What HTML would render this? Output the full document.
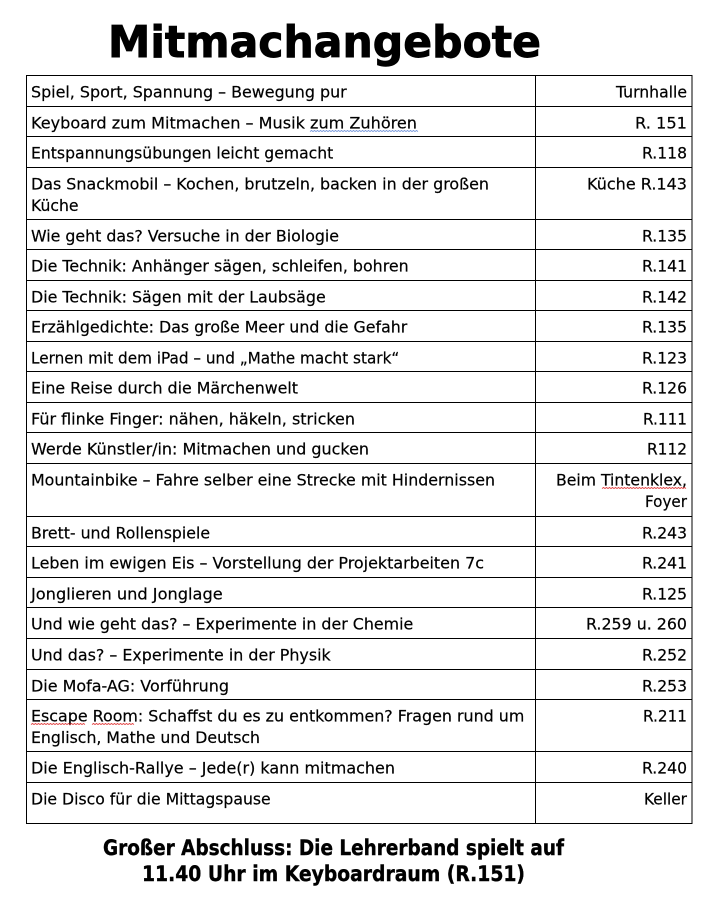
<!DOCTYPE html>
<html>
<head>
<meta charset="utf-8">
<style>
  html, body { margin: 0; padding: 0; background: #ffffff; }
  body { width: 717px; height: 902px; overflow: hidden; }
  svg { display: block; }
  .t { font-family: "DejaVu Sans", "Liberation Sans", sans-serif; font-size: 15.7px; fill: #000; stroke: #000; stroke-width: 0.2px; }
  .b { font-family: "DejaVu Sans", "Liberation Sans", sans-serif; font-weight: bold; fill: #000; stroke: #000; }
</style>
</head>
<body>
<svg width="717" height="902" viewBox="0 0 717 902" xmlns="http://www.w3.org/2000/svg">
  <rect x="0" y="0" width="717" height="902" fill="#ffffff"/>

  <!-- Title -->
  <text class="b" x="108" y="57" font-size="44" stroke-width="0.9" textLength="433" lengthAdjust="spacingAndGlyphs">Mitmachangebote</text>

  <!-- Table frame -->
  <g stroke="#000" stroke-width="1" fill="none" shape-rendering="crispEdges">
    <rect x="26.5" y="75.5" width="665.5" height="748"/>
    <line x1="535.5" y1="75.5" x2="535.5" y2="823.5"/>
    <line x1="26.5" y1="106.5" x2="692" y2="106.5"/>
    <line x1="26.5" y1="136.5" x2="692" y2="136.5"/>
    <line x1="26.5" y1="167.5" x2="692" y2="167.5"/>
    <line x1="26.5" y1="219.5" x2="692" y2="219.5"/>
    <line x1="26.5" y1="249.5" x2="692" y2="249.5"/>
    <line x1="26.5" y1="280.5" x2="692" y2="280.5"/>
    <line x1="26.5" y1="310.5" x2="692" y2="310.5"/>
    <line x1="26.5" y1="341.5" x2="692" y2="341.5"/>
    <line x1="26.5" y1="371.5" x2="692" y2="371.5"/>
    <line x1="26.5" y1="402.5" x2="692" y2="402.5"/>
    <line x1="26.5" y1="432.5" x2="692" y2="432.5"/>
    <line x1="26.5" y1="463.5" x2="692" y2="463.5"/>
    <line x1="26.5" y1="516.5" x2="692" y2="516.5"/>
    <line x1="26.5" y1="546.5" x2="692" y2="546.5"/>
    <line x1="26.5" y1="577.5" x2="692" y2="577.5"/>
    <line x1="26.5" y1="607.5" x2="692" y2="607.5"/>
    <line x1="26.5" y1="638.5" x2="692" y2="638.5"/>
    <line x1="26.5" y1="669.5" x2="692" y2="669.5"/>
    <line x1="26.5" y1="699.5" x2="692" y2="699.5"/>
    <line x1="26.5" y1="751.5" x2="692" y2="751.5"/>
    <line x1="26.5" y1="782.5" x2="692" y2="782.5"/>
  </g>

  <!-- Left column -->
  <g class="t">
    <text x="31" y="97.5" textLength="315.7" lengthAdjust="spacingAndGlyphs">Spiel, Sport, Spannung – Bewegung pur</text>
    <text x="31" y="128.5" textLength="386" lengthAdjust="spacingAndGlyphs">Keyboard zum Mitmachen – Musik zum  Zuhören</text>
    <text x="31" y="158.5" textLength="302.3" lengthAdjust="spacingAndGlyphs">Entspannungsübungen leicht gemacht</text>
    <text x="31" y="189.5" textLength="458" lengthAdjust="spacingAndGlyphs">Das Snackmobil – Kochen, brutzeln, backen in der großen</text>
    <text x="31" y="211.2" textLength="47.5" lengthAdjust="spacingAndGlyphs">Küche</text>
    <text x="31" y="241.5" textLength="308" lengthAdjust="spacingAndGlyphs">Wie geht das? Versuche in der Biologie</text>
    <text x="31" y="271.5" textLength="377.7" lengthAdjust="spacingAndGlyphs">Die Technik: Anhänger sägen, schleifen, bohren</text>
    <text x="31" y="302.5" textLength="294.7" lengthAdjust="spacingAndGlyphs">Die Technik: Sägen mit der Laubsäge</text>
    <text x="31" y="332.5" textLength="376.3" lengthAdjust="spacingAndGlyphs">Erzählgedichte: Das große Meer und die Gefahr</text>
    <text x="31" y="363.5" textLength="368.3" lengthAdjust="spacingAndGlyphs">Lernen mit dem iPad – und „Mathe macht stark“</text>
    <text x="31" y="393.5" textLength="267" lengthAdjust="spacingAndGlyphs">Eine Reise durch die Märchenwelt</text>
    <text x="31" y="424.5" textLength="324" lengthAdjust="spacingAndGlyphs">Für flinke Finger: nähen, häkeln, stricken</text>
    <text x="31" y="454.5" textLength="338" lengthAdjust="spacingAndGlyphs">Werde Künstler/in: Mitmachen und gucken</text>
    <text x="31" y="485.5" textLength="464" lengthAdjust="spacingAndGlyphs">Mountainbike – Fahre selber eine Strecke mit Hindernissen</text>
    <text x="31" y="538.5" textLength="179" lengthAdjust="spacingAndGlyphs">Brett- und Rollenspiele</text>
    <text x="31" y="568.5" textLength="453" lengthAdjust="spacingAndGlyphs">Leben im ewigen Eis – Vorstellung der Projektarbeiten 7c</text>
    <text x="31" y="599.5" textLength="191.7" lengthAdjust="spacingAndGlyphs">Jonglieren und Jonglage</text>
    <text x="31" y="629.5" textLength="382.3" lengthAdjust="spacingAndGlyphs">Und wie geht das? – Experimente in der Chemie</text>
    <text x="31" y="660.5" textLength="299.7" lengthAdjust="spacingAndGlyphs">Und das? – Experimente in der Physik</text>
    <text x="31" y="691.5" textLength="198" lengthAdjust="spacingAndGlyphs">Die Mofa-AG: Vorführung</text>
    <text x="31" y="721.5" textLength="493.3" lengthAdjust="spacingAndGlyphs">Escape Room: Schaffst du es zu entkommen? Fragen rund um</text>
    <text x="31" y="743.2" textLength="229" lengthAdjust="spacingAndGlyphs">Englisch, Mathe und Deutsch</text>
    <text x="31" y="773.5" textLength="364" lengthAdjust="spacingAndGlyphs">Die Englisch-Rallye – Jede(r) kann mitmachen</text>
    <text x="31" y="804.5" textLength="239.7" lengthAdjust="spacingAndGlyphs">Die Disco für die Mittagspause</text>
  </g>

  <!-- Right column -->
  <g class="t" text-anchor="end">
    <text x="687" y="97.5" textLength="71" lengthAdjust="spacingAndGlyphs">Turnhalle</text>
    <text x="687" y="128.5" textLength="52" lengthAdjust="spacingAndGlyphs">R. 151</text>
    <text x="687" y="158.5" textLength="45" lengthAdjust="spacingAndGlyphs">R.118</text>
    <text x="687" y="189.5" textLength="100" lengthAdjust="spacingAndGlyphs">Küche R.143</text>
    <text x="687" y="241.5" textLength="45" lengthAdjust="spacingAndGlyphs">R.135</text>
    <text x="687" y="271.5" textLength="45" lengthAdjust="spacingAndGlyphs">R.141</text>
    <text x="687" y="302.5" textLength="45" lengthAdjust="spacingAndGlyphs">R.142</text>
    <text x="687" y="332.5" textLength="45" lengthAdjust="spacingAndGlyphs">R.135</text>
    <text x="687" y="363.5" textLength="45" lengthAdjust="spacingAndGlyphs">R.123</text>
    <text x="687" y="393.5" textLength="45" lengthAdjust="spacingAndGlyphs">R.126</text>
    <text x="687" y="424.5" textLength="44" lengthAdjust="spacingAndGlyphs">R.111</text>
    <text x="687" y="454.5" textLength="40" lengthAdjust="spacingAndGlyphs">R112</text>
    <text x="687" y="485.5" textLength="131" lengthAdjust="spacingAndGlyphs">Beim Tintenklex,</text>
    <text x="687" y="507.2" textLength="42" lengthAdjust="spacingAndGlyphs">Foyer</text>
    <text x="687" y="538.5" textLength="45" lengthAdjust="spacingAndGlyphs">R.243</text>
    <text x="687" y="568.5" textLength="45" lengthAdjust="spacingAndGlyphs">R.241</text>
    <text x="687" y="599.5" textLength="45" lengthAdjust="spacingAndGlyphs">R.125</text>
    <text x="687" y="629.5" textLength="101" lengthAdjust="spacingAndGlyphs">R.259 u. 260</text>
    <text x="687" y="660.5" textLength="45" lengthAdjust="spacingAndGlyphs">R.252</text>
    <text x="687" y="691.5" textLength="45" lengthAdjust="spacingAndGlyphs">R.253</text>
    <text x="687" y="721.5" textLength="44" lengthAdjust="spacingAndGlyphs">R.211</text>
    <text x="687" y="773.5" textLength="45" lengthAdjust="spacingAndGlyphs">R.240</text>
    <text x="687" y="804.5" textLength="43" lengthAdjust="spacingAndGlyphs">Keller</text>
  </g>

  <!-- Spell-check squiggles -->
  <g fill="none" stroke-width="0.8">
    <polyline stroke="#6a8fd8" points="310,131.5 311.5,130.5 313,131.5 314.5,130.5 316,131.5 317.5,130.5 319,131.5 320.5,130.5 322,131.5 323.5,130.5 325,131.5 326.5,130.5 328,131.5 329.5,130.5 331,131.5 332.5,130.5 334,131.5 335.5,130.5 337,131.5 338.5,130.5 340,131.5 341.5,130.5 343,131.5 344.5,130.5 346,131.5 347.5,130.5 349,131.5 350.5,130.5 352,131.5 353.5,130.5 355,131.5 356.5,130.5 358,131.5 359.5,130.5 361,131.5 362.5,130.5 364,131.5 365.5,130.5 367,131.5 368.5,130.5 370,131.5 371.5,130.5 373,131.5 374.5,130.5 376,131.5 377.5,130.5 379,131.5 380.5,130.5 382,131.5 383.5,130.5 385,131.5 386.5,130.5 388,131.5 389.5,130.5 391,131.5 392.5,130.5 394,131.5 395.5,130.5 397,131.5 398.5,130.5 400,131.5 401.5,130.5 403,131.5 404.5,130.5 406,131.5 407.5,130.5 409,131.5 410.5,130.5 412,131.5 413.5,130.5 415,131.5 416.5,130.5 418,131.5"/>
    <polyline stroke="#e03030" points="602,488.5 603.5,487.5 605,488.5 606.5,487.5 608,488.5 609.5,487.5 611,488.5 612.5,487.5 614,488.5 615.5,487.5 617,488.5 618.5,487.5 620,488.5 621.5,487.5 623,488.5 624.5,487.5 626,488.5 627.5,487.5 629,488.5 630.5,487.5 632,488.5 633.5,487.5 635,488.5 636.5,487.5 638,488.5 639.5,487.5 641,488.5 642.5,487.5 644,488.5 645.5,487.5 647,488.5 648.5,487.5 650,488.5 651.5,487.5 653,488.5 654.5,487.5 656,488.5 657.5,487.5 659,488.5 660.5,487.5 662,488.5 663.5,487.5 665,488.5 666.5,487.5 668,488.5 669.5,487.5 671,488.5 672.5,487.5 674,488.5 675.5,487.5 677,488.5 678.5,487.5 680,488.5 681.5,487.5 683,488.5 684.5,487.5 686,488.5"/>
    <polyline stroke="#e03030" points="31,724.5 32.5,723.5 34,724.5 35.5,723.5 37,724.5 38.5,723.5 40,724.5 41.5,723.5 43,724.5 44.5,723.5 46,724.5 47.5,723.5 49,724.5 50.5,723.5 52,724.5 53.5,723.5 55,724.5 56.5,723.5 58,724.5 59.5,723.5 61,724.5 62.5,723.5 64,724.5 65.5,723.5 67,724.5 68.5,723.5 70,724.5 71.5,723.5 73,724.5 74.5,723.5 76,724.5 77.5,723.5 79,724.5 80.5,723.5 82,724.5 83.5,723.5 85,724.5"/>
    <polyline stroke="#e03030" points="92,724.5 93.5,723.5 95,724.5 96.5,723.5 98,724.5 99.5,723.5 101,724.5 102.5,723.5 104,724.5 105.5,723.5 107,724.5 108.5,723.5 110,724.5 111.5,723.5 113,724.5 114.5,723.5 116,724.5 117.5,723.5 119,724.5 120.5,723.5 122,724.5 123.5,723.5 125,724.5 126.5,723.5 128,724.5 129.5,723.5 131,724.5 132.5,723.5 134,724.5"/>
  </g>

  <!-- Footer -->
  <text class="b" x="103" y="855" font-size="21" stroke-width="0.4" textLength="461" lengthAdjust="spacingAndGlyphs">Großer Abschluss: Die Lehrerband spielt auf</text>
  <text class="b" x="142" y="881" font-size="21" stroke-width="0.4" textLength="383" lengthAdjust="spacingAndGlyphs">11.40 Uhr im Keyboardraum (R.151)</text>
</svg>
</body>
</html>
